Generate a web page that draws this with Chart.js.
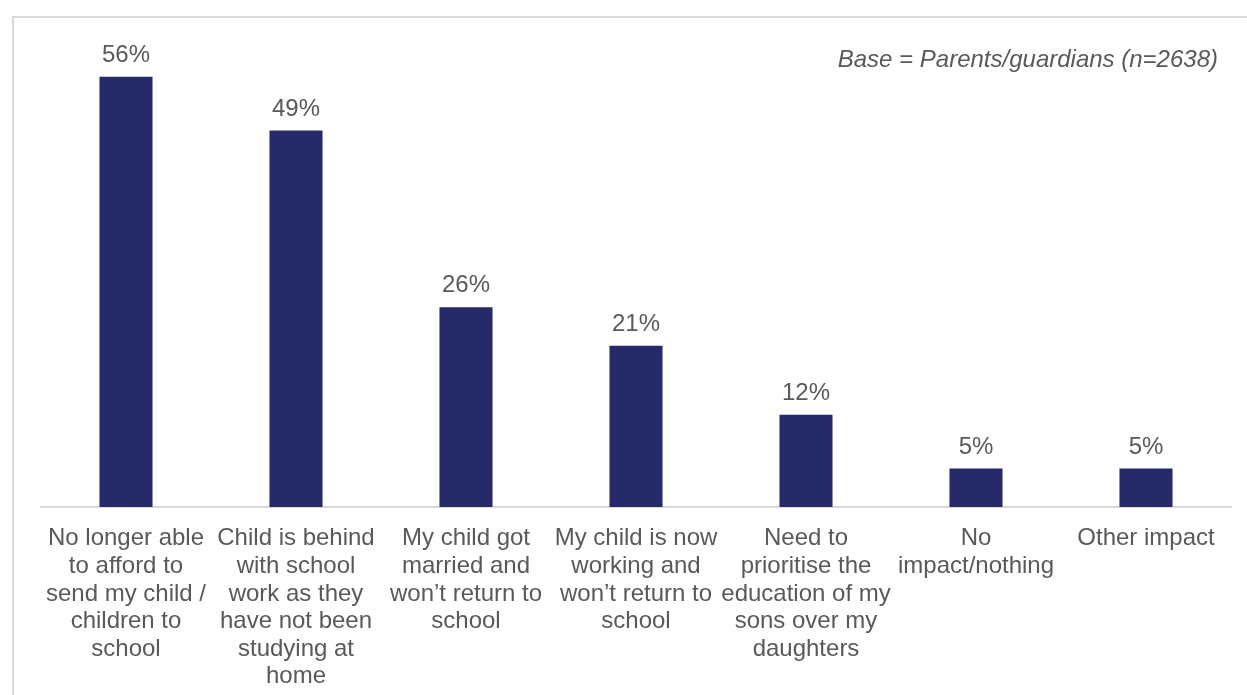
<!DOCTYPE html>
<html>
<head>
<meta charset="utf-8">
<script src="https://cdn.jsdelivr.net/npm/chart.js@4.4.1/dist/chart.umd.min.js"></script>
<style>
  html, body { margin: 0; padding: 0; background: #ffffff; }
  #wrap { position: relative; width: 1247px; height: 695px; }
</style>
</head>
<body>
<div id="wrap"><canvas id="chart" width="1247" height="695"></canvas></div>
<script>
// Reported impacts on children's schooling, share of parents/guardians (%)
const categories = [
  ["No longer able", "to afford to", "send my child /", "children to", "school"],
  ["Child is behind", "with school", "work as they", "have not been", "studying at", "home"],
  ["My child got", "married and", "won\u2019t return to", "school"],
  ["My child is now", "working and", "won\u2019t return to", "school"],
  ["Need to", "prioritise the", "education of my", "sons over my", "daughters"],
  ["No", "impact/nothing"],
  ["Other impact"]
];
const values = [56, 49, 26, 21, 12, 5, 5];
const valueLabels = ["56%", "49%", "26%", "21%", "12%", "5%", "5%"];
const baseNote = "Base = Parents/guardians (n=2638)";

const textColor = "#595959";
const barColor = "#262a68";
const lineColor = "#d9d9d9";
const fontFamily = "'Liberation Sans', Arial, sans-serif";

// Frame lines and the base note
const framePlugin = {
  id: "frame",
  beforeDraw(chart) {
    const ctx = chart.ctx;
    ctx.save();
    ctx.strokeStyle = lineColor;
    ctx.lineWidth = 2;
    ctx.beginPath();
    ctx.moveTo(13, 695);
    ctx.lineTo(13, 17);
    ctx.lineTo(1247, 17);
    ctx.stroke();
    ctx.restore();
  },
  afterDraw(chart) {
    const ctx = chart.ctx;
    ctx.save();
    ctx.font = "italic 24px " + fontFamily;
    ctx.fillStyle = textColor;
    ctx.textAlign = "right";
    ctx.textBaseline = "alphabetic";
    ctx.fillText(baseNote, 1218, 67);
    ctx.restore();
  }
};

// Percentage labels above each bar
const valueLabelPlugin = {
  id: "valueLabels",
  afterDatasetsDraw(chart) {
    const ctx = chart.ctx;
    const meta = chart.getDatasetMeta(0);
    ctx.save();
    ctx.font = "24px " + fontFamily;
    ctx.fillStyle = textColor;
    ctx.textAlign = "center";
    ctx.textBaseline = "alphabetic";
    meta.data.forEach((bar, i) => {
      ctx.fillText(valueLabels[i], bar.x, bar.y - 15);
    });
    ctx.restore();
  }
};

new Chart(document.getElementById("chart"), {
  type: "bar",
  data: {
    labels: categories,
    datasets: [{
      data: values,
      backgroundColor: barColor,
      borderWidth: 0,
      barPercentage: 0.312,
      categoryPercentage: 1.0
    }]
  },
  options: {
    responsive: false,
    animation: false,
    events: [],
    layout: { padding: { top: 46, left: 41, right: 16, bottom: 0 } },
    plugins: {
      legend: { display: false },
      tooltip: { enabled: false },
      title: { display: false }
    },
    scales: {
      x: {
        grid: { display: false, drawTicks: false },
        border: { display: true, color: lineColor, width: 2 },
        ticks: {
          color: textColor,
          font: { family: fontFamily, size: 24, lineHeight: 1.15 },
          padding: 18,
          maxRotation: 0,
          autoSkip: false
        },
        afterFit(scale) { scale.height = 188; }
      },
      y: {
        display: false,
        min: 0,
        max: 60
      }
    }
  },
  plugins: [framePlugin, valueLabelPlugin]
});
</script>
</body>
</html>
